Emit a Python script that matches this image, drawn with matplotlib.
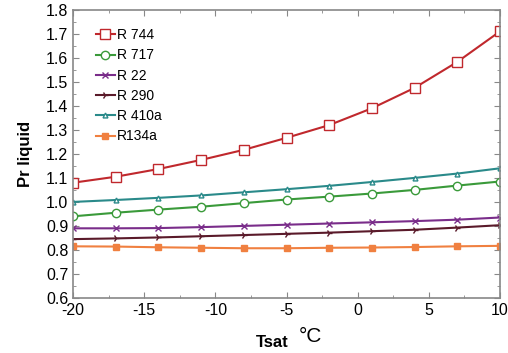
import matplotlib

matplotlib.use("Agg")
import matplotlib.pyplot as plt
from matplotlib.ticker import MultipleLocator

plt.rcParams["font.family"] = ["Liberation Sans", "DejaVu Sans"]
plt.rcParams["axes.unicode_minus"] = False

tsat = [-20, -17, -14, -11, -8, -5, -2, 1, 4, 7, 10]

r744 = [1.08, 1.105, 1.137, 1.175, 1.217, 1.267, 1.32, 1.39, 1.475, 1.583, 1.71]
r717 = [0.94, 0.955, 0.968, 0.98, 0.995, 1.01, 1.022, 1.035, 1.05, 1.068, 1.085]
r22 = [0.89, 0.89, 0.891, 0.895, 0.9, 0.905, 0.91, 0.915, 0.92, 0.926, 0.935]
r290 = [0.845, 0.848, 0.852, 0.857, 0.862, 0.867, 0.872, 0.878, 0.884, 0.893, 0.903]
r410a = [1.0, 1.008, 1.017, 1.027, 1.04, 1.053, 1.067, 1.083, 1.1, 1.118, 1.14]
r134a = [0.815, 0.814, 0.811, 0.809, 0.807, 0.807, 0.809, 0.81, 0.812, 0.815, 0.817]

series = [
    ("R 744", r744, "#c0282d", "s", 6.5, "white"),
    ("R 717", r717, "#3a9a3a", "o", 6, "white"),
    ("R 22", r22, "#7a2d8a", "x", 4, None),
    ("R 290", r290, "#5a1a2a", "4", 5, None),
    ("R 410a", r410a, "#2a8a8a", "^", 3.5, "white"),
    ("R134a", r134a, "#f08040", "s", 4, None),
]

fig = plt.figure(figsize=(5.08, 3.53), dpi=100)
ax = fig.add_axes([0.144, 0.156, 0.84, 0.816])

for label, vals, color, marker, ms, mfc in series:
    ax.plot(tsat, vals, color=color, lw=1.5, marker=marker, ms=ms,
            mfc=mfc if mfc else color, mec=color, mew=1.0, label=label)

ax.set_xlim(-20, 10)
ax.set_ylim(0.6, 1.8)
ax.xaxis.set_major_locator(MultipleLocator(5))
ax.xaxis.set_minor_locator(MultipleLocator(2.5))
ax.yaxis.set_major_locator(MultipleLocator(0.1))
ax.yaxis.set_minor_locator(MultipleLocator(0.05))
ax.tick_params(which="both", direction="in", top=True, right=True,
               color="#888888", labelsize=11.5)
ax.tick_params(which="major", length=4)
ax.tick_params(which="minor", length=2)
for s in ax.spines.values():
    s.set_color("#888888")
    s.set_linewidth(1.2)

ax.set_ylabel("Pr liquid", fontsize=12, fontweight="bold")
ax.yaxis.set_label_coords(-0.095, 0.5)
ax.set_xlabel("Tsat", fontsize=12, fontweight="bold")
ax.xaxis.set_label_coords(0.466, -0.13)
ax.text(0.557, -0.135, "°C", transform=ax.transAxes, fontsize=15,
        ha="center", va="center")

ax.legend(loc="upper left", frameon=False, handlelength=1.4,
          handletextpad=0.1, borderaxespad=0.3, labelspacing=0.45,
          fontsize=10, bbox_to_anchor=(0.03, 0.97))

fig.savefig("out.png", dpi=100)
